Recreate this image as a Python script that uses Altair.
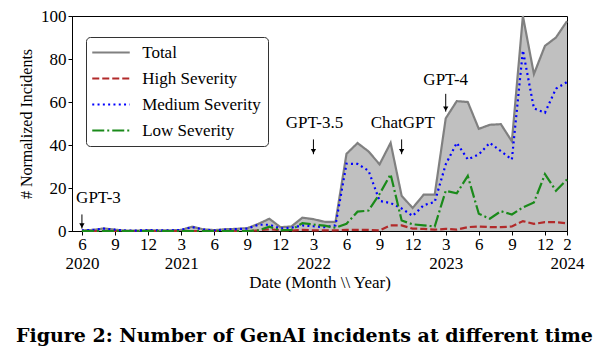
import altair as alt
import pandas as pd

# ---- data (month index 0 = Jun 2020 ... 44 = Feb 2024) ----
months = list(range(45))
total = [0.3, 0.5, 1.2, 0.6, 0.2, 0.2, 0.4, 0.3, 0.3, 0.5, 2.0, 0.8, 0.4, 0.8, 1.0, 1.3,
         3.3, 5.7, 1.8, 2.1, 6.2, 5.5, 4.3, 4.2,
         35.9, 40.9, 37.0, 31.0, 41.0, 16.4, 10.7, 16.9, 16.9, 52.4, 60.4, 60.0, 47.5,
         49.4, 49.7, 41.7, 100.0, 73.0, 86.1, 90.0, 97.6]
medium = [0.3, 0.5, 1.1, 0.6, 0.2, 0.2, 0.4, 0.3, 0.3, 0.5, 1.8, 0.7, 0.3, 0.7, 0.9, 1.1,
          2.9, 2.9, 1.2, 1.5, 2.6, 2.2, 1.8, 2.6,
          31.3, 31.2, 28.0, 14.0, 13.0, 10.5, 7.0, 12.0, 13.5, 31.0, 41.0, 33.3, 35.6,
          41.0, 37.1, 33.3, 84.0, 57.0, 55.0, 66.2, 69.3]
low = [0.0] * 16 + [0.3, 2.0, 0.3, 0.5, 3.7, 3.0, 2.5, 1.5,
                    3.4, 9.0, 9.5, 17.2, 26.4, 4.9, 3.1, 2.6, 2.1, 18.7, 17.5, 25.6, 8.0,
                    5.7, 9.2, 7.7, 11.0, 13.3, 26.4, 18.7, 24.0]
high = [0.0] * 16 + [0.3, 0.8, 0.3, 0.2, 0.5, 0.3, 0.3, 0.3,
                     0.5, 0.5, 0.5, 0.3, 2.6, 2.6, 1.1, 1.0, 0.6, 1.0, 0.6, 1.8, 2.1,
                     1.8, 1.8, 2.1, 4.6, 3.3, 4.1, 4.1, 3.6]

series_names = ["Total", "High Severity", "Medium Severity", "Low Severity"]
series_colors = ["#808080", "#b22a2a", "#0000ff", "#1a8a1a"]
series_dashes = [[1, 0], [7, 3], [2, 3.3], [12, 3, 2, 3]]

tick_values = [0, 3, 6, 9, 12, 15, 18, 21, 24, 27, 30, 33, 36, 39, 42, 44]
tick_months = ["6", "9", "12", "3", "6", "9", "12", "3", "6", "9", "12", "3", "6", "9", "12", "2"]
tick_years = ["2020", "", "", "2021", "", "", "", "2022", "", "", "", "2023", "", "", "", "2024"]

ann_labels = ["GPT-3", "GPT-3.5", "ChatGPT", "GPT-4"]
ann_text_x = [1.5, 21.1, 29.1, 33.0]
ann_text_y = [15.4, 50.1, 50.1, 70.2]
arrow_x = [0, 21, 29, 33]
arrow_top = [7.7, 42.6, 42.6, 63.8]
arrow_tip = [1.1, 35.7, 35.7, 55.5]

caption = "Figure 2: Number of GenAI incidents at different time"

# ---- tables ----
wide = pd.DataFrame({"month": months, "total": total})
values_by_series = [total, high, medium, low]
long = pd.DataFrame([
    {"month": m, "value": v, "series": s}
    for s, vals in zip(series_names, values_by_series)
    for m, v in zip(months, vals)
])
ann = pd.DataFrame({"label": ann_labels, "tx": ann_text_x, "ty": ann_text_y})
arr = pd.DataFrame({"ax": arrow_x, "atop": arrow_top, "atip": arrow_tip})

FONT = "'Liberation Serif', 'Times New Roman', Times, serif"

label_expr = " : ".join(
    f"datum.value == {v} ? ['{m}', '{y}']" for v, m, y in zip(tick_values, tick_months, tick_years)
) + " : ''"

xscale = alt.Scale(domain=[-0.9, 44], nice=False, zero=False)
yscale = alt.Scale(domain=[0, 100], nice=False)

xaxis = alt.Axis(values=tick_values, labelExpr=label_expr, title="Date (Month \\\\ Year)",
                 grid=False, tickSize=4, labelPadding=1, labelLineHeight=19,
                 labelFlush=False, labelOverlap=False, titlePadding=3,
                 labelFont=FONT, titleFont=FONT, labelFontSize=17, titleFontSize=17)
yaxis = alt.Axis(values=[0, 20, 40, 60, 80, 100], title="# Normalized Incidents",
                 grid=False, tickSize=4, labelPadding=2, labelFlush=False,
                 labelOverlap=False, titlePadding=6,
                 labelFont=FONT, titleFont=FONT, labelFontSize=17, titleFontSize=16)


def X(field):
    return alt.X(field, scale=xscale, axis=xaxis, title="Date (Month \\\\ Year)")


def Y(field):
    return alt.Y(field, scale=yscale, axis=yaxis, title="# Normalized Incidents")


area = alt.Chart(wide).mark_area(color="#c0c0c0", opacity=1).encode(
    x=X("month:Q"), y=Y("total:Q"),
)

legend = alt.Legend(title=None, orient="none", legendX=14, legendY=21,
                    symbolType="M-2.5,0H2.5", symbolSize=225, symbolStrokeWidth=2,
                    symbolOffset=9.5, labelOffset=22.7,
                    labelFont=FONT, labelFontSize=17,
                    rowPadding=8, padding=7, fillColor="white",
                    strokeColor="#333333", cornerRadius=4)

lines = alt.Chart(long).mark_line(strokeWidth=2.2).encode(
    x=X("month:Q"), y=Y("value:Q"),
    color=alt.Color("series:N", scale=alt.Scale(domain=series_names, range=series_colors),
                    legend=legend, sort=series_names),
    strokeDash=alt.StrokeDash("series:N", scale=alt.Scale(domain=series_names, range=series_dashes),
                              legend=legend, sort=series_names),
)

texts = alt.Chart(ann).mark_text(font=FONT, fontSize=17, color="black", baseline="middle").encode(
    x=X("tx:Q"), y=Y("ty:Q"), text="label:N"
)
rules = alt.Chart(arr).mark_rule(color="black", strokeWidth=1).encode(
    x=X("ax:Q"), y=Y("atop:Q"), y2="atip:Q"
)
heads = alt.Chart(arr).mark_point(shape="triangle-down", filled=True, color="black",
                                  size=28, opacity=1, yOffset=-3).encode(
    x=X("ax:Q"), y=Y("atip:Q")
)

chart = alt.layer(area, lines, rules, heads, texts).properties(
    width=495, height=215,
    autosize=alt.AutoSizeParams(type="none"),
    padding={"left": 64, "top": 8, "right": 27, "bottom": 124},
    title=alt.TitleParams(text=caption, orient="bottom", anchor="start", frame="group",
                          font="DejaVu Serif", fontSize=19, fontWeight="bold",
                          color="black", dx=-56, offset=37),
).configure_view(stroke="black", strokeWidth=1).configure_axis(
    labelFont=FONT, titleFont=FONT,
    titleFontWeight="normal", labelColor="black", titleColor="black",
    domainColor="black", tickColor="black", domainWidth=1, tickWidth=1,
).configure_axisX(labelOverlap=False)

chart.save("out.html", embed_options={"renderer": "svg", "actions": False})
